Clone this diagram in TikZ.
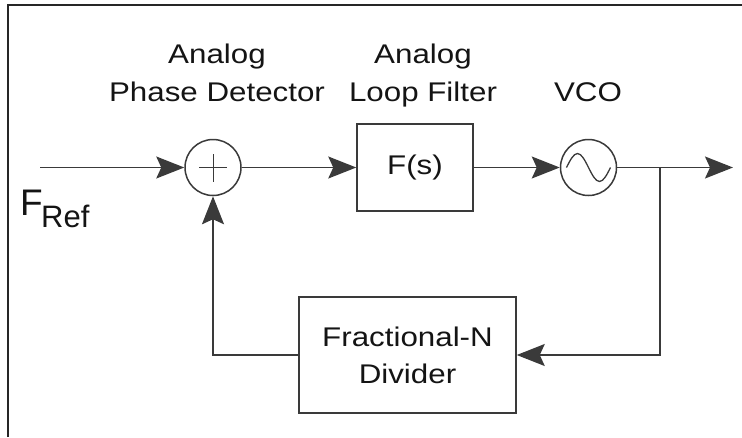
\documentclass[tikz,border=0pt]{standalone}
\usepackage{fontspec}
\setmainfont{Liberation Sans}
\usetikzlibrary{arrows.meta}
\definecolor{linecol}{HTML}{3A3A3A}
\definecolor{txtcol}{HTML}{141414}
\newcommand\wideText[1]{\scalebox{1.16}[1]{#1}}
\begin{document}
\begin{tikzpicture}[x=1pt,y=-1pt,
  wire/.style={draw=linecol, line width=1.5pt},
  arr/.style={wire, -{Stealth[length=28pt,width=22pt,inset=5pt]}},
  blk/.style={draw=linecol, line width=1.5pt, fill=white, inner sep=0pt,
    font=\fontsize{27}{37}\selectfont, text=txtcol, align=center},
  ring/.style={circle, draw=linecol, line width=1.5pt, minimum size=56pt, inner sep=0pt},
  lab/.style={font=\fontsize{27}{27}\selectfont, text=txtcol, inner sep=0pt, anchor=base}]
\useasboundingbox (0,0) rectangle (742,437);
% frame
\draw[line width=2pt, draw=black!85] (8,437) -- (8,5) -- (742,5);

% blocks
\node[ring] (sum) at (213,167.5) {};
\node[blk, minimum width=116pt, minimum height=87pt] (filt) at (415,167.5) {\wideText{F(s)}};
\node[ring] (vco) at (588.5,167.5) {};
\node[blk, minimum width=217pt, minimum height=116pt] (div) at (407.5,355) {\wideText{Fractional-N}\\\wideText{Divider}};

% plus sign
\draw[linecol, line width=1pt] ([xshift=-14pt]sum.center) -- ([xshift=14pt]sum.center);
\draw[linecol, line width=1pt] ([yshift=-14pt]sum.center) -- ([yshift=14pt]sum.center);

% sine wave
\draw[linecol, line width=1.3pt] ([xshift=-22pt]vco.center) sin ++(11,-14) cos ++(11,14) sin ++(11,14) cos ++(11,-14);

% labels
\node[lab] (l1a) at (217,63) {\wideText{Analog}};
\node[lab] (l1b) at (217,101) {\wideText{Phase Detector}};
\node[lab] (l2a) at (423,63) {\wideText{Analog}};
\node[lab] (l2b) at (423,101) {\wideText{Loop Filter}};
\node[lab] (l3) at (588,101) {\wideText{VCO}};

% F_Ref
\node[inner sep=0pt, anchor=base west, text=txtcol, font=\fontsize{37}{37}\selectfont] (fr) at (20,215) {F};
\node[inner sep=0pt, anchor=base west, text=txtcol, font=\fontsize{31}{31}\selectfont] (fref) at (41,227) {Ref};

% connectors
\coordinate (in) at (40,167.5);
\coordinate (br) at (660,167.5);
\coordinate (out) at (733,167.5);
\draw[arr] (in) -- (sum.west);
\draw[arr] (sum.east) -- (filt.west);
\draw[arr] (filt.east) -- (vco.west);
\draw[arr] (vco.east) -- (out);
\draw[arr] (br) |- (div.east);
\draw[arr] (div.west) -| (sum.south);
\end{tikzpicture}
\end{document}
